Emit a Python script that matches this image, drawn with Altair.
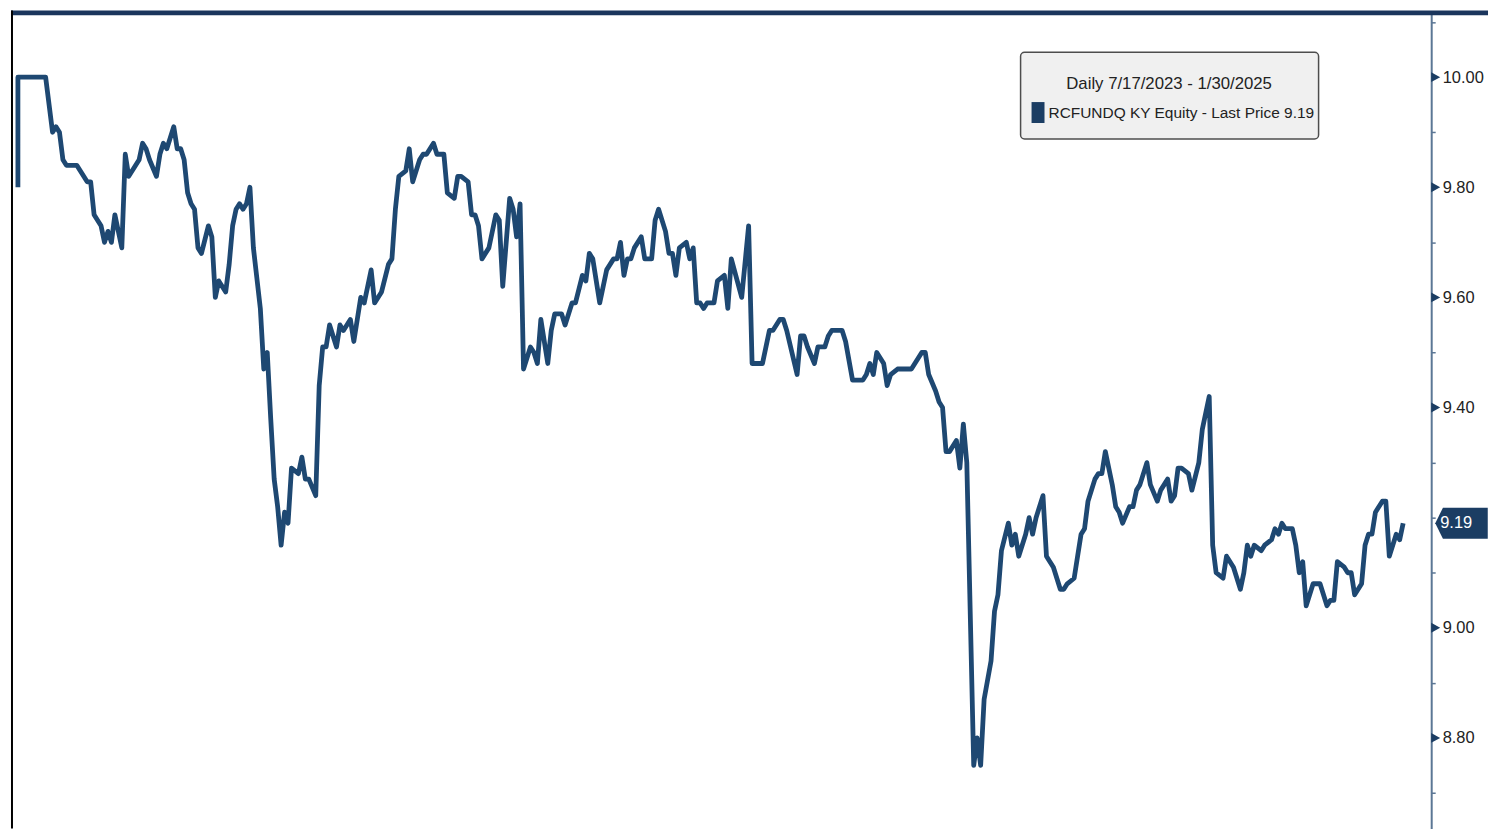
import altair as alt
import pandas as pd

# ---- data (trading-day index, last price) ----
days = [0, 0, 2, 8, 10, 11, 12, 13, 14, 17, 18, 20, 21, 22, 24, 25, 26, 27, 28, 30,
        31, 32, 34, 35, 36, 37, 38, 40, 41, 42, 43, 45, 46, 47, 48, 49, 50, 51, 52, 53,
        55, 56, 57, 58, 60, 61, 62, 63, 64, 65, 66, 67, 68, 70, 71, 72, 73, 74, 75, 76,
        77, 78, 79, 81, 82, 83, 84, 86, 87, 88, 89, 90, 92, 93, 94, 96, 97, 99, 100, 102,
        103, 105, 107, 108, 109, 110, 112, 113, 114, 116, 117, 118, 119, 120, 121, 123, 124, 126, 127, 128,
        130, 131, 132, 133, 134, 136, 138, 139, 140, 142, 143, 144, 145, 146, 148, 149, 150, 151, 153, 154,
        155, 157, 158, 159, 160, 161, 163, 164, 165, 166, 168, 169, 170, 172, 173, 174, 175, 176, 177, 178,
        180, 181, 183, 184, 185, 187, 188, 189, 190, 191, 193, 194, 195, 196, 197, 198, 199, 201, 202, 204,
        205, 206, 209, 211, 212, 214, 215, 216, 217, 218, 220, 221, 222, 225, 226, 227, 228, 230, 231, 233,
        234, 235, 236, 238, 239, 241, 242, 244, 245, 246, 247, 248, 250, 251, 252, 254, 255, 257, 258, 260,
        261, 262, 263, 265, 266, 267, 268, 269, 271, 272, 273, 274, 276, 277, 278, 279, 281, 282, 283, 284,
        286, 287, 288, 289, 291, 292, 293, 294, 296, 297, 298, 299, 301, 302, 303, 305, 306, 307, 308, 309,
        311, 312, 313, 314, 316, 317, 318, 319, 321, 322, 323, 324, 326, 327, 329, 330, 332, 333, 334, 335,
        336, 338, 339, 341, 342, 344, 345, 346, 348, 349, 351, 353, 354, 355, 356, 357, 359, 360, 362, 363,
        364, 365, 366, 368, 369, 370, 371, 372, 374, 375, 376, 378, 379, 380, 381, 383, 384, 385, 386, 388,
        389, 390, 391, 392, 394, 395, 396, 398, 399, 400]

prices = [9.80, 10.00, 10.00, 10.00, 9.90, 9.91, 9.90, 9.85, 9.84, 9.84, 9.83, 9.81, 9.81, 9.75, 9.73, 9.70, 9.72, 9.70, 9.75, 9.69,
          9.86, 9.82, 9.84, 9.85, 9.88, 9.87, 9.85, 9.82, 9.86, 9.88, 9.87, 9.91, 9.87, 9.87, 9.85, 9.79, 9.77, 9.76, 9.69, 9.68,
          9.73, 9.71, 9.60, 9.63, 9.61, 9.66, 9.73, 9.76, 9.77, 9.76, 9.77, 9.80, 9.69, 9.58, 9.47, 9.50, 9.38, 9.27, 9.22, 9.15,
          9.21, 9.19, 9.29, 9.28, 9.31, 9.27, 9.27, 9.24, 9.44, 9.51, 9.51, 9.55, 9.51, 9.55, 9.54, 9.56, 9.52, 9.60, 9.59, 9.65,
          9.59, 9.61, 9.66, 9.67, 9.76, 9.82, 9.83, 9.87, 9.81, 9.85, 9.86, 9.86, 9.87, 9.88, 9.86, 9.86, 9.79, 9.78, 9.82, 9.82,
          9.81, 9.75, 9.75, 9.73, 9.67, 9.69, 9.75, 9.74, 9.62, 9.78, 9.76, 9.71, 9.77, 9.47, 9.51, 9.50, 9.48, 9.56, 9.48, 9.54,
          9.57, 9.57, 9.55, 9.57, 9.59, 9.59, 9.64, 9.63, 9.68, 9.67, 9.59, 9.62, 9.65, 9.67, 9.67, 9.70, 9.64, 9.67, 9.67, 9.69,
          9.71, 9.67, 9.67, 9.74, 9.76, 9.72, 9.68, 9.68, 9.64, 9.69, 9.70, 9.67, 9.69, 9.59, 9.59, 9.58, 9.59, 9.59, 9.63, 9.64,
          9.58, 9.67, 9.60, 9.73, 9.48, 9.48, 9.48, 9.51, 9.54, 9.54, 9.56, 9.56, 9.54, 9.46, 9.53, 9.53, 9.51, 9.48, 9.51, 9.51,
          9.53, 9.54, 9.54, 9.54, 9.52, 9.45, 9.45, 9.45, 9.46, 9.48, 9.46, 9.50, 9.48, 9.44, 9.46, 9.47, 9.47, 9.47, 9.47, 9.49,
          9.50, 9.50, 9.46, 9.43, 9.41, 9.40, 9.32, 9.32, 9.34, 9.29, 9.37, 9.30, 8.75, 8.80, 8.75, 8.87, 8.94, 9.03, 9.06, 9.14,
          9.19, 9.15, 9.17, 9.13, 9.17, 9.20, 9.17, 9.20, 9.24, 9.13, 9.12, 9.11, 9.07, 9.07, 9.08, 9.09, 9.13, 9.17, 9.18, 9.23,
          9.27, 9.28, 9.28, 9.32, 9.26, 9.22, 9.21, 9.19, 9.22, 9.22, 9.25, 9.26, 9.30, 9.26, 9.23, 9.25, 9.27, 9.23, 9.24, 9.29,
          9.29, 9.28, 9.25, 9.30, 9.36, 9.42, 9.15, 9.10, 9.09, 9.13, 9.11, 9.07, 9.10, 9.15, 9.13, 9.15, 9.14, 9.15, 9.16, 9.18,
          9.17, 9.19, 9.18, 9.18, 9.15, 9.10, 9.12, 9.04, 9.08, 9.08, 9.08, 9.04, 9.05, 9.05, 9.12, 9.11, 9.10, 9.10, 9.06, 9.08,
          9.15, 9.17, 9.17, 9.21, 9.23, 9.23, 9.13, 9.17, 9.16, 9.19]

labeled_ticks = [8.8, 9.0, 9.4, 9.6, 9.8, 10.0]
all_ticks = [8.7, 8.8, 8.9, 9.0, 9.1, 9.2, 9.3, 9.4, 9.5, 9.6, 9.7, 9.8, 9.9, 10.0, 10.1]
legend_title = "Daily 7/17/2023 - 1/30/2025"
series_label = "RCFUNDQ KY Equity - Last Price 9.19"
last_price = [9.19]

W, H = 1425, 821
NAVY = "#1b3d63"
LINE = "#1e4872"
AXIS = "#5b7795"
FONT = "Liberation Sans, Arial, sans-serif"

df = pd.DataFrame({"day": days, "price": prices, "order": list(range(len(days)))})
xs = alt.Scale(domain=[-2.0, 408.1], nice=False, zero=False)
ys = alt.Scale(domain=[8.6353, 10.1213], nice=False, zero=False)
one = pd.DataFrame({"k": [0]})

label_test = " || ".join(
    "abs(datum.value - %s) < 0.001" % v for v in labeled_ticks)

line = alt.Chart(df).mark_line(color=LINE, strokeWidth=4.8, strokeJoin="round", strokeCap="butt").encode(
    x=alt.X("day:Q", scale=xs, axis=None),
    y=alt.Y("price:Q", scale=ys, axis=alt.Axis(
        orient="right", values=all_ticks, title=None, grid=False,
        labelExpr="(" + label_test + ") ? format(datum.value, '.2f') : ''",
        tickSize=4, tickWidth=1.5, tickColor=AXIS, domainColor=AXIS, domainWidth=2,
        labelFont=FONT, labelFontSize=16.5, labelColor="#222222", labelPadding=7, labelFlush=False)),
    order="order:Q",
)

tri = alt.Chart(pd.DataFrame({"v": labeled_ticks})).mark_point(
    shape="M -1 -1.1 L 1 0 L -1 1.1 Z", size=81, filled=True, opacity=1, color=NAVY
).encode(x=alt.value(W + 4.5), y=alt.Y("v:Q", scale=ys))

lp = pd.DataFrame({"v": last_price})
lp_box = alt.Chart(lp).mark_point(
    shape="M -1.7 0 L -1.2 -1 L 1.7 -1 L 1.7 1 L -1.2 1 Z", size=961, filled=True, opacity=1, color=NAVY
).encode(x=alt.value(W + 30.4), y=alt.Y("v:Q", scale=ys))
lp_text = alt.Chart(lp).mark_text(font=FONT, fontSize=16.5, color="white", align="left", baseline="middle").encode(
    x=alt.value(W + 9), y=alt.Y("v:Q", scale=ys), text=alt.Text("v:Q", format=".2f"))

top_bar = alt.Chart(one).mark_rule(color="#1a355c", strokeWidth=5).encode(
    x=alt.value(0), x2=alt.value(W + 57), y=alt.value(2.5))
left_bar = alt.Chart(one).mark_rule(color="#000000", strokeWidth=2).encode(
    x=alt.value(1), y=alt.value(0), y2=alt.value(H))

leg_box = alt.Chart(one).mark_rect(fill="#f0f0f0", stroke="#4d4d4d", strokeWidth=1.5, cornerRadius=4).encode(
    x=alt.value(1013), x2=alt.value(1312), y=alt.value(42), y2=alt.value(129))
leg_t1 = alt.Chart(pd.DataFrame({"t": [legend_title]})).mark_text(
    font=FONT, fontSize=16.8, color="#222222", align="center", baseline="middle").encode(
    x=alt.value(1162), y=alt.value(74), text="t:N")
leg_sq = alt.Chart(one).mark_rect(fill=NAVY).encode(
    x=alt.value(1024), x2=alt.value(1037), y=alt.value(92), y2=alt.value(113))
leg_t2 = alt.Chart(pd.DataFrame({"t": [series_label]})).mark_text(
    font=FONT, fontSize=15.5, color="#222222", align="left", baseline="middle").encode(
    x=alt.value(1041), y=alt.value(103), text="t:N")

chart = alt.layer(line, tri, lp_box, lp_text, top_bar, left_bar, leg_box, leg_t1, leg_sq, leg_t2).properties(
    width=W, height=H, padding=0, background="white"
).configure_view(stroke=None)

chart.save("out.html", embed_options={"renderer": "svg", "actions": False})
